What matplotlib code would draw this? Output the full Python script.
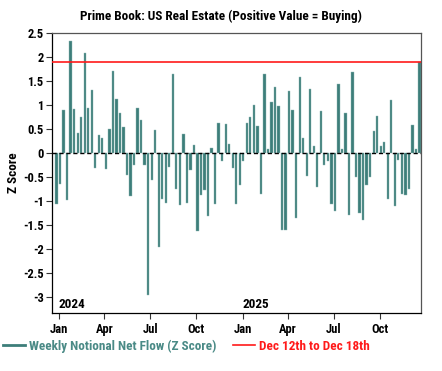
import matplotlib
matplotlib.use("Agg")
import matplotlib.pyplot as plt
import matplotlib.dates as mdates
from matplotlib import font_manager
from matplotlib.lines import Line2D
import pandas as pd

names = {f.name for f in font_manager.fontManager.ttflist}
FAM = "Roboto Condensed" if "Roboto Condensed" in names else "Roboto"
plt.rcParams["font.family"] = [FAM, "DejaVu Sans"]

end_date = "2025-12-18"
values = [
    -1.07, -0.65, 0.89, -0.99, 2.33, 0.90, 0.40, 0.74, 2.08, 0.92,
    1.31, -0.32, 0.36, 0.31, -0.35, 0.49, 1.70, 1.12, 0.82, 0.53,
    -0.47, -0.90, -0.26, 0.92, 0.68, -0.25, -2.97, -0.58, 0.47, -1.97,
    -0.96, -1.06, -0.31, 1.64, -0.75, -1.10, 0.39, -1.06, -0.36, 0.15,
    -1.64, -0.89, -0.78, -1.32, 0.10, -1.08, 0.62, -0.18, 0.60, 0.19,
    -0.32, -1.08, -0.67, -0.17, 0.61, 0.74, 0.99, 0.56, -0.86, 1.63,
    0.07, 1.06, 1.36, 0.97, -1.61, -1.61, 1.28, 0.88, -1.36, 1.57,
    0.31, -0.49, 1.32, 0.14, -0.72, 0.86, -0.25, -0.18, -1.08, -1.21,
    1.44, 0.07, 0.82, -1.31, 1.69, -0.50, -1.25, -1.40, -0.67, -0.51,
    0.46, 0.76, 0.13, 0.22, -0.97, 1.10, -1.11, -0.15, -0.86, -0.89,
    -0.75, 0.57, 0.07, 1.89,
]
latest_value = 1.89
title = "Prime Book: US Real Estate (Positive Value = Buying)"
series_label = "Weekly Notional Net Flow (Z Score)"
latest_label = "Dec 12th to Dec 18th"
ylabel = "Z Score"
yticks = [2.5, 2, 1.5, 1, 0.5, 0, -0.5, -1, -1.5, -2, -2.5, -3]
ytick_labels = ["2.5", "2", "1.5", "1", "0.5", "0", "-0.5", "-1", "-1.5", "-2", "-2.5", "-3"]
years = ["2024", "2025"]

dates = pd.date_range(end=end_date, periods=len(values), freq="7D")

TEAL = "#3d7e7a"
RED = "#ff1a1a"

fig = plt.figure(figsize=(4.42, 3.71), dpi=100)
ax = fig.add_axes([52 / 442, 1 - 313.3 / 371, (421 - 52) / 442, (313.3 - 32.7) / 371])

ax.bar(dates, values, width=4.5, color=TEAL, edgecolor="#8fb8b5", linewidth=0.3, zorder=2)
ax.axhline(0, color="black", linestyle=(0, (3, 2)), linewidth=1.0, zorder=3)
ax.axhline(latest_value, color=RED, linewidth=1.2, zorder=4)

ax.set_ylim(-3.35, 2.5)
ax.set_xlim(pd.Timestamp("2023-12-19"), pd.Timestamp("2025-12-21"))
ax.set_yticks(yticks)
ax.set_yticklabels(ytick_labels)

ax.xaxis.set_major_locator(mdates.MonthLocator(bymonth=[1, 4, 7, 10]))
ax.xaxis.set_major_formatter(mdates.DateFormatter("%b"))

for lab in ax.get_xticklabels() + ax.get_yticklabels():
    lab.set_fontweight("bold")
    lab.set_fontsize(9)
ax.tick_params(axis="both", direction="out", length=4, width=0.8, colors="#333333", labelcolor="black")
ax.tick_params(axis="x", pad=3)
ax.tick_params(axis="y", pad=2)

ax.set_ylabel(ylabel, fontsize=9.5, fontweight="bold", labelpad=2)
fig.text(0.5, 1 - 16 / 371, title, fontsize=9.5, fontweight="bold", ha="center", va="center")

for s in ["top", "right"]:
    ax.spines[s].set_color("#555555")
    ax.spines[s].set_linewidth(0.9)
for s in ["left", "bottom"]:
    ax.spines[s].set_color("black")
    ax.spines[s].set_linewidth(0.9)

for yr in years:
    ax.text(pd.Timestamp(f"{yr}-01-01"), -3.3, yr, fontsize=9.5, fontweight="bold",
            ha="left", va="bottom", color="black")

handles = [Line2D([0], [0], color=TEAL, linewidth=2),
           Line2D([0], [0], color=RED, linewidth=1.2)]
leg = fig.legend(handles, [series_label, latest_label], loc="center left",
                 bbox_to_anchor=(-0.005, 1 - 346 / 371), ncol=2, frameon=False,
                 handlelength=1.7, handletextpad=0.3, columnspacing=1.2,
                 borderaxespad=0.0,
                 prop={"weight": "bold", "size": 9.5, "family": [FAM, "DejaVu Sans"]})
for txt, c in zip(leg.get_texts(), ["#4a8a86", RED]):
    txt.set_color(c)

fig.savefig("out.png", dpi=100)
